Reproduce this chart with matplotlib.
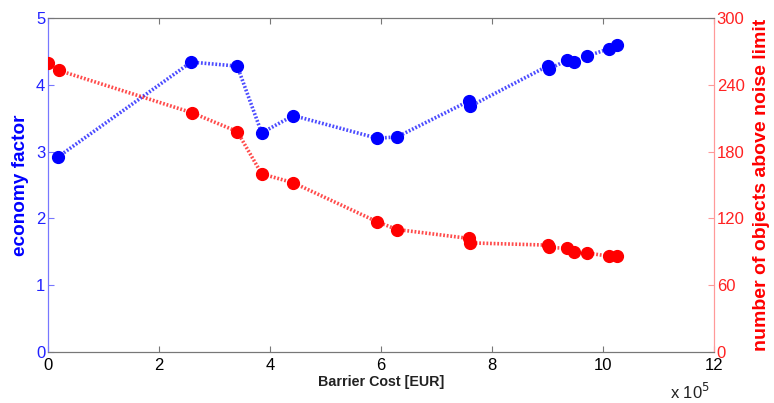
import matplotlib
matplotlib.use("Agg")
import matplotlib.pyplot as plt

plt.rcParams['font.family'] = ['Liberation Sans', 'DejaVu Sans']

# Barrier cost in units of 1e5 EUR
cost_econ = [0.18, 2.58, 3.41, 3.85, 4.42, 5.93, 6.29, 7.59, 7.61, 9.00, 9.03, 9.36, 9.47, 9.71, 10.11, 10.25]
economy_factor = [2.92, 4.34, 4.28, 3.28, 3.54, 3.20, 3.22, 3.76, 3.68, 4.28, 4.24, 4.37, 4.34, 4.43, 4.54, 4.59]

cost_obj = [0.0, 0.19, 2.59, 3.41, 3.85, 4.42, 5.93, 6.29, 7.59, 7.61, 9.00, 9.03, 9.36, 9.47, 9.71, 10.11, 10.25]
objects_above = [260, 253, 215, 198, 160, 152, 117, 110, 102, 98, 96, 94, 93, 90, 89, 86, 86]

x_ticks = [0, 2, 4, 6, 8, 10, 12]
left_ticks = [0, 1, 2, 3, 4, 5]
right_ticks = [0, 60, 120, 180, 240, 300]

fig = plt.figure(figsize=(7.74, 4.03), dpi=100)
ax = fig.add_axes([0.062, 0.1266, 0.8605, 0.8287])
ax2 = ax.twinx()

blue = '#0000ff'
red = '#ff0000'

ax.plot(cost_econ, economy_factor, color=blue, alpha=0.7, lw=2.6, dashes=(0.5, 0.5), zorder=2)
ax.plot(cost_econ, economy_factor, 'o', color=blue, ms=8.5, zorder=3)
ax2.plot(cost_obj, objects_above, color=red, alpha=0.7, lw=2.6, dashes=(0.5, 0.5), zorder=2)
ax2.plot(cost_obj, objects_above, 'o', color=red, ms=8.5, zorder=3)

ax.set_xlim(0, 12)
ax.set_ylim(0, 5)
ax2.set_ylim(0, 300)
ax.set_xticks(x_ticks)
ax.set_yticks(left_ticks)
ax2.set_yticks(right_ticks)

for a in (ax, ax2):
    a.spines['top'].set_color('#777777')
    a.spines['bottom'].set_color('#777777')
ax.spines['left'].set_color('#7777ff')
ax2.spines['left'].set_color('#7777ff')
ax2.spines['right'].set_color('#ff9999')
ax.spines['right'].set_color('#ff9999')

ax.tick_params(axis='x', direction='in', top=True, colors='#777777', labelcolor='black',
               labelsize=12, length=4, pad=4)
ax.tick_params(axis='y', direction='in', colors='#7777ff', labelcolor='#2222ff',
               labelsize=12, length=4, pad=2)
ax2.tick_params(axis='y', direction='in', colors='#ff9999', labelcolor='#ff2222',
                labelsize=12, length=4, pad=2)

ax.set_xlabel('Barrier Cost [EUR]', fontsize=10.3, fontweight='bold', color='#222222', labelpad=2)
ax.set_ylabel('economy factor', fontsize=13.7, fontweight='bold', color=blue, labelpad=5)
ax2.set_ylabel('number of objects above noise limit', fontsize=14, fontweight='bold', color=red, labelpad=6)

fig.text(0.866, 0.01, r'x 10$^5$', fontsize=12, color='#222222')

fig.savefig('out.png', dpi=100)
